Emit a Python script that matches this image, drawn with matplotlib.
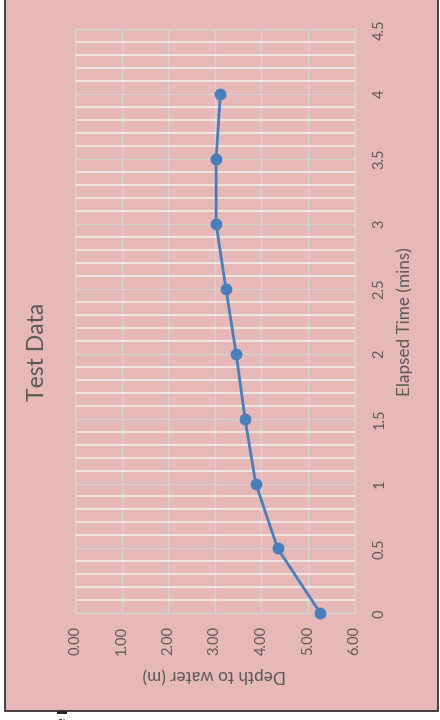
import matplotlib
matplotlib.use("Agg")
import matplotlib.pyplot as plt
from matplotlib.patches import Rectangle
from matplotlib.ticker import MultipleLocator, FormatStrFormatter, FuncFormatter

plt.rcParams['font.family'] = ['Lato', 'DejaVu Sans']

# Test readings: elapsed time (mins) vs depth to water (m)
elapsed_time = [0, 0.5, 1, 1.5, 2, 2.5, 3, 3.5, 4]
depth_to_water = [5.27, 4.35, 3.88, 3.65, 3.46, 3.24, 3.03, 3.03, 3.12]

title = "Test Data"
depth_label = "Depth to water (m)"
time_label = "Elapsed Time (mins)"

W, H = 440, 720
fig = plt.figure(figsize=(W / 100, H / 100), dpi=100, facecolor="white")

pink = "#E6B8B7"
text_grey = "#595959"

# chart area with dark frame
fig.patches.append(Rectangle((5 / W, 1 - 711 / H), 433 / W, 711 / H + 0.01,
                             transform=fig.transFigure, facecolor=pink,
                             edgecolor="#262626", linewidth=1.2, zorder=-5))
# small mark below the frame
fig.patches.append(Rectangle((57 / W, 1 - 713.5 / H), 10 / W, 2.5 / H,
                             transform=fig.transFigure, facecolor="#262626",
                             edgecolor="none", zorder=1))
fig.text(62 / W, 1 - 724 / H, "e", rotation=90, fontsize=9, color="#262626",
         ha="center", va="bottom")

ax = fig.add_axes([75 / W, 1 - 613.3 / H, (354.5 - 75) / W, (613.3 - 29.3) / H])
ax.set_zorder(2)
ax.set_facecolor(pink)

ax.plot(depth_to_water, elapsed_time, color="#4A7EBB", linewidth=2.0,
        marker="o", markersize=7.5, zorder=3, clip_on=False)

ax.set_xlim(0, 6)
ax.set_ylim(0, 4.5)
ax.xaxis.set_major_locator(MultipleLocator(1))
ax.xaxis.set_major_formatter(FormatStrFormatter("%.2f"))
ax.yaxis.set_major_locator(MultipleLocator(0.5))
ax.yaxis.set_minor_locator(MultipleLocator(0.1))
ax.yaxis.set_major_formatter(FuncFormatter(lambda v, p: f"{v:g}"))

ax.grid(True, which="major", axis="both", color="#D4D4D4", linewidth=1.0, zorder=1)
ax.grid(True, which="minor", axis="y", color="#F2F2F2", linewidth=1.1, zorder=1)
ax.set_axisbelow(True)
for s in ax.spines.values():
    s.set_color("#D4D4D4")
    s.set_linewidth(1.0)

ax.yaxis.tick_right()
ax.tick_params(axis="both", which="both", length=0, colors=text_grey, labelsize=10.5)
ax.tick_params(axis="x", pad=9, labelrotation=90)
ax.tick_params(axis="y", pad=13, labelrotation=90)
for lbl in ax.get_yticklabels():
    lbl.set_va("center")
for lbl in ax.get_xticklabels():
    lbl.set_ha("center")

fig.text((75 + 354.5) / 2 / W, 1 - 675 / H, depth_label, rotation=180,
         fontsize=12.3, color=text_grey, ha="center", va="center")
fig.text(405 / W, 1 - 322 / H, time_label, rotation=90,
         fontsize=12.3, color=text_grey, ha="center", va="center")
fig.text(37 / W, 1 - 352 / H, title, rotation=90,
         fontsize=16.5, color=text_grey, ha="center", va="center")

fig.savefig("out.png", dpi=100, facecolor="white")
